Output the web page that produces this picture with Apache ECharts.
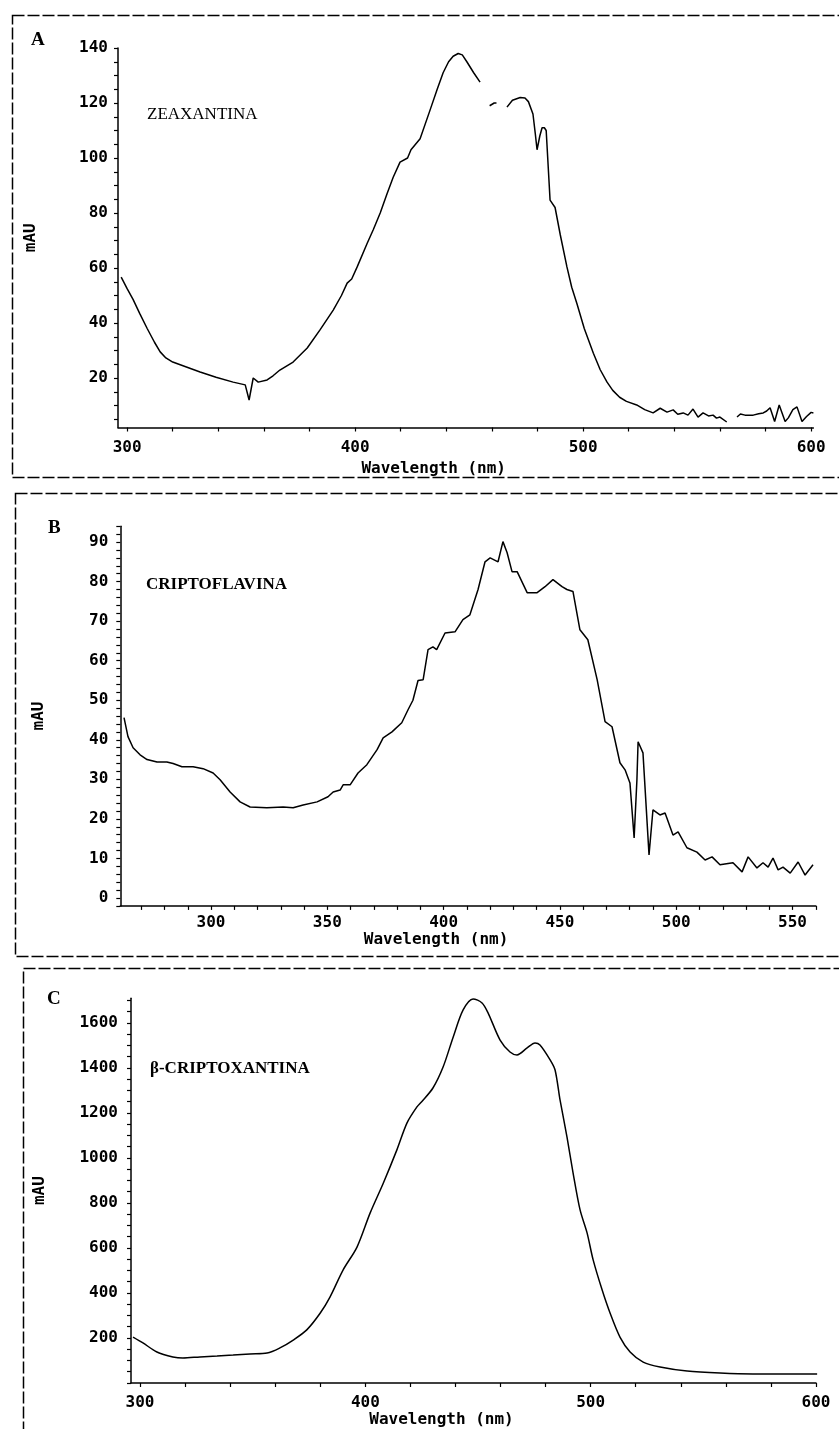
<!DOCTYPE html>
<html>
<head>
<meta charset="utf-8">
<title>Espectros UV-Vis</title>
<script src="https://cdn.jsdelivr.net/npm/echarts@6/dist/echarts.min.js"></script>
<style>
html, body { margin: 0; padding: 0; background: #fff; }
#chart { width: 839px; height: 1429px; }
</style>
</head>
<body>
<div id="chart"></div>
<script>
// A - zeaxantina (null = hueco en el trazo original)
const wlA = [297.4, 300, 302.6, 305.5, 308.8, 312, 314.5, 317, 320, 326, 332, 339, 346.5, 351.8, 353.5, 355.3, 357.5, 361.4, 364, 367,
  372.8, 379, 384.6, 390.4, 394, 396.5, 398.5, 400.9, 405.3, 408, 411, 414, 416.7, 419.7, 423, 424.5, 426.5,
  428.5, 432.9, 436, 438.6, 441, 443, 445.2, 447, 449, 452, 454.8, 457, 459, 461, 462, 464,
  466.6, 469, 472.4, 474.5, 476, 478, 479, 479.8, 481, 482, 483, 483.8, 485.5, 487.7, 490, 492.9, 495, 497.3,
  500.5, 504.5, 507.5, 510.5, 513, 516, 519, 523.5, 527, 530.7, 533.8, 536.8, 539.5, 541.5, 543.9, 546, 548.2,
  550.4, 552.6, 555, 557, 558.5, 560, 563, 565, 567.5, 569, 571, 574.6, 577, 579, 580.5, 582, 584, 586, 588.6,
  590, 592, 593.8, 596, 598, 600, 601];
const mauA = [56.7, 52.5, 48.6, 43.5, 38, 33, 29.5, 27.3, 25.8, 24, 22.2, 20.3, 18.5, 17.5, 12, 20, 18.5, 19.3, 20.8, 22.9,
  25.8, 30.9, 37.5, 44.7, 50, 54.5, 56, 60.4, 69, 74, 80, 87, 93, 98.5, 100, 103, 105,
  107, 117.5, 125, 131, 135, 137, 138, 137.5, 135, 131, 127.6, null, 119, 120, 120, null,
  118.5, 121, 122, 121.8, 120.5, 116, 109, 103, 108, 111, 111, 110, 84.7, 82, 72, 60.4, 53, 47,
  38, 29, 23, 18.5, 15.5, 13, 11.5, 10.2, 8.5, 7.3, 9, 7.6, 8.4, 6.8, 7.3, 6.5, 8.7,
  5.8, 7.3, 6.2, 6.5, 5.4, 5.8, 4, null, 5.8, 6.9, 6.5, 6.5, 7, 7.3, 8, 9.2, 4.2, 10.2, 4.2,
  5.5, 8.5, 9.5, 4.2, 6, 7.5, 7.3];

// B - criptoflavina
const wlB = [262.6, 264.3, 266.5, 269.5, 272.5, 276.8, 281, 283.7, 287.5, 292.3, 296.6, 300.9, 303.9, 308.2, 312.5, 316.8,
  324, 331, 335.3, 339.6, 345.6, 350.3, 352.5, 355.5, 356.8, 359.8, 363.2, 367, 371.4, 374, 377.8, 382, 384.7,
  386.8, 389, 391.2, 393.3, 395.4, 397, 400.6, 404.9, 408.3, 411.3, 414.8, 417.8, 420, 423.4, 425.5, 427.3,
  429.4, 431.6, 435.9, 440.2, 443.6, 447, 450.9, 453, 455.6, 458.6, 462, 466, 469.4, 472.4, 475.8, 478, 480.1,
  481.9, 483.1, 483.6, 485.7, 488.3, 490, 493, 495.2, 498.6, 500.8, 504.6, 508.9, 512.4, 515.4, 518.8, 524.4,
  528.3, 530.9, 534.7, 537.3, 539.5, 541.6, 543.8, 545.9, 549, 552.4, 555.4, 558.8];
const mauB = [45.6, 40.8, 38, 36.2, 35, 34.4, 34.4, 34, 33.2, 33.2, 32.7, 31.6, 29.9, 26.8, 24.3, 23,
  22.8, 23, 22.8, 23.5, 24.3, 25.6, 26.8, 27.3, 28.6, 28.6, 31.6, 33.7, 37.5, 40.5, 42, 44.3, 47.6,
  50, 55, 55.2, 62.8, 63.5, 62.8, 67, 67.3, 70.4, 71.6, 78, 85, 86, 85, 90.1, 87.3,
  82.5, 82.5, 77.2, 77.2, 78.7, 80.5, 78.7, 78, 77.5, 67.8, 65.3, 55.2, 44.6, 43.3, 34.2, 32.4, 29.1,
  15.2, 29.9, 39.5, 36.7, 10.9, 22.3, 21, 21.5, 15.9, 16.7, 12.7, 11.6, 9.6, 10.4, 8.4, 8.9,
  6.6, 10.4, 7.6, 8.9, 7.8, 10.1, 7.1, 7.8, 6.3, 9.1, 5.8, 8.4];

// C - beta-criptoxantina
const wlC = [296.9, 301.3, 307.5, 314.6, 319, 326.6, 334.2, 341.3, 348.8, 356.4, 362.1, 368, 374, 380, 384.3, 390.1,
  396.3, 402.1, 408, 414, 418.5, 422.9, 425, 430, 434.5, 439, 443.4, 447.8, 451.8, 454.5, 459.8, 464.2, 467.3,
  471.8, 475.3, 477.5, 482, 484.2, 486.4, 489.5, 492.2, 495.3, 498.4, 501.1, 505.1, 508.6, 513, 517.5, 523.3,
  530.8, 542.8, 557.4, 572, 587, 600.5];
const mauC = [204, 178, 138, 116, 111, 116, 120, 124, 129, 133, 156, 191, 236, 311, 382, 502,
  604, 755, 889, 1036, 1156, 1227, 1250, 1311, 1404, 1538, 1658, 1707, 1689, 1644, 1524, 1471, 1458,
  1489, 1511, 1502, 1436, 1391, 1258, 1093, 933, 769, 667, 547, 413, 311, 204, 138, 93,
  71, 53, 44, 40, 40, 40];

// etiquetas de los ejes
const xLabelsA = [300, 400, 500, 600];
const yLabelsA = [20, 40, 60, 80, 100, 120, 140];
const xLabelsB = [300, 350, 400, 450, 500, 550];
const yLabelsB = [0, 10, 20, 30, 40, 50, 60, 70, 80, 90];
const xLabelsC = [300, 400, 500, 600];
const yLabelsC = [200, 400, 600, 800, 1000, 1200, 1400, 1600];

function steps(a, b, s) {
  const r = [];
  for (let v = a; v <= b + 1e-9; v += s) r.push(+v.toFixed(2));
  return r;
}

function pairs(xs, ys) {
  return xs.map((x, i) => [x, ys[i] == null ? '-' : ys[i]]);
}

const monoFont = {
  fontFamily: 'DejaVu Sans Mono',
  fontWeight: 'bold',
  fontSize: 16,
  color: '#000'
};

function xAxisFor(gi, min, max, labels, tickStep, labelMargin, nameGap) {
  return {
    type: 'value',
    gridIndex: gi,
    min: min,
    max: max,
    name: 'Wavelength (nm)',
    nameLocation: 'middle',
    nameGap: nameGap,
    nameTextStyle: Object.assign({}, monoFont, { padding: [0, 64, 0, 0] }),
    axisLine: { onZero: false, lineStyle: { color: '#000', width: 1.5 } },
    axisTick: {
      customValues: steps(Math.ceil(min / tickStep) * tickStep, max, tickStep),
      length: 4,
      lineStyle: { color: '#000', width: 1.2 }
    },
    axisLabel: Object.assign({}, monoFont, {
      customValues: labels,
      margin: labelMargin,
      formatter: v => String(v)
    }),
    splitLine: { show: false }
  };
}

function yAxisFor(gi, min, max, labels, tickStep, labelMargin, nameGap) {
  return {
    type: 'value',
    gridIndex: gi,
    min: min,
    max: max,
    name: 'mAU',
    nameLocation: 'middle',
    nameGap: nameGap,
    nameTextStyle: monoFont,
    axisLine: { show: true, onZero: false, lineStyle: { color: '#000', width: 1.5 } },
    axisTick: {
      customValues: steps(Math.ceil(min / tickStep) * tickStep, max, tickStep),
      length: 4,
      lineStyle: { color: '#000', width: 1.2 }
    },
    axisLabel: Object.assign({}, monoFont, {
      customValues: labels,
      margin: labelMargin,
      formatter: v => String(v)
    }),
    splitLine: { show: false }
  };
}

function lineFor(gi, data, smooth) {
  return {
    type: 'line',
    xAxisIndex: gi,
    yAxisIndex: gi,
    data: data,
    showSymbol: false,
    symbol: 'none',
    smooth: smooth,
    connectNulls: false,
    lineStyle: { color: '#000', width: 1.5 },
    silent: true
  };
}

function frame(x, y, w, h) {
  return {
    type: 'rect',
    shape: { x: x, y: y, width: w, height: h },
    style: { fill: 'none', stroke: '#000', lineWidth: 1.5, lineDash: [12, 3] },
    silent: true
  };
}

function txt(x, y, text, font) {
  return {
    type: 'text',
    x: x,
    y: y,
    style: { text: text, font: font, fill: '#000', textVerticalAlign: 'middle' },
    silent: true
  };
}

const chart = echarts.init(document.getElementById('chart'));
chart.setOption({
  backgroundColor: '#fff',
  animation: false,
  grid: [
    { left: 118, right: 25.6, top: 48, bottom: 1001.5 },
    { left: 120.3, right: 23.2, top: 526.2, bottom: 523.1 },
    { left: 131, right: 23, top: 998.2, bottom: 46 }
  ],
  xAxis: [
    xAxisFor(0, 296, 601, xLabelsA, 20, 12, 33),
    xAxisFor(1, 261, 560, xLabelsB, 10, 9, 18),
    xAxisFor(2, 296, 600, xLabelsC, 20, 12, 26)
  ],
  yAxis: [
    yAxisFor(0, 2, 140, yLabelsA, 5, 10, 79),
    yAxisFor(1, -2, 94, yLabelsB, 2, 12, 73),
    yAxisFor(2, 0, 1710, yLabelsC, 50, 13, 83)
  ],
  series: [
    lineFor(0, pairs(wlA, mauA), false),
    lineFor(1, pairs(wlB, mauB), false),
    lineFor(2, pairs(wlC, mauC), 0.3)
  ],
  graphic: [
    frame(12.5, 15.5, 840, 462),
    frame(15.5, 493.5, 840, 463),
    frame(23.5, 968.5, 840, 480),
    txt(31, 40, 'A', 'bold 19px "Liberation Serif"'),
    txt(48, 528, 'B', 'bold 19px "Liberation Serif"'),
    txt(47, 999, 'C', 'bold 19px "Liberation Serif"'),
    txt(147, 115, 'ZEAXANTINA', '17px "Liberation Serif"'),
    txt(146, 585, 'CRIPTOFLAVINA', 'bold 17px "Liberation Serif"'),
    txt(150, 1069, 'β-CRIPTOXANTINA', 'bold 17px "Liberation Serif"')
  ]
});
</script>
</body>
</html>
